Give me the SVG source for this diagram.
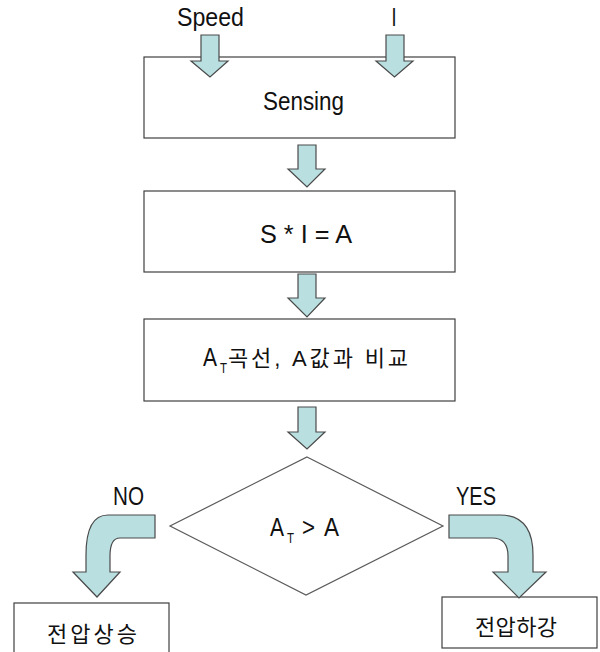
<svg xmlns="http://www.w3.org/2000/svg" width="600" height="652" viewBox="0 0 600 652">
<style>
.box{fill:#fff;stroke:#404040;stroke-width:1.2}
.dia{fill:#fff;stroke:#5a5a5a;stroke-width:1.2}
.arr{fill:#b9dfe0;stroke:#4a4a4a;stroke-width:1.2;stroke-linejoin:miter}
.t{font-family:"Liberation Sans","Noto Sans CJK KR",sans-serif;font-size:26px;fill:#111}
.m{font-family:"Liberation Sans","Noto Sans CJK KR",sans-serif;font-size:22px;fill:#111}
.k{font-family:"Noto Sans CJK KR","Liberation Sans",sans-serif;font-size:22px;fill:#111}
.sub{font-family:"Liberation Sans",sans-serif;font-size:14px;fill:#111}
</style>
<rect width="600" height="652" fill="#fff"/>
<g id="node-sensing">
  <rect class="box" x="144" y="57" width="311" height="81"/>
  <text class="t" x="263" y="110" textLength="81" lengthAdjust="spacingAndGlyphs">Sensing</text>
</g>
<g id="node-sia">
  <rect class="box" x="144" y="191" width="311" height="81"/>
  <text class="t" x="260" y="243" textLength="92" lengthAdjust="spacingAndGlyphs">S * I = A</text>
</g>
<g id="node-compare">
  <rect class="box" x="144" y="319" width="311" height="82"/>
  <text class="t" x="203" y="366" textLength="14" lengthAdjust="spacingAndGlyphs">A</text>
  <text class="sub" x="220" y="373" textLength="7" lengthAdjust="spacingAndGlyphs">T</text>
  <text class="m" x="228" y="366" textLength="180" lengthAdjust="spacing">곡선, A값과 비교</text>
</g>
<g id="node-decision">
  <polygon class="dia" points="307,457 443,526 306,595 170,526"/>
  <text class="t" x="270" y="536" textLength="14" lengthAdjust="spacingAndGlyphs">A</text>
  <text class="sub" x="287" y="543" textLength="7" lengthAdjust="spacingAndGlyphs">T</text>
  <text class="t" x="302" y="536" textLength="13" lengthAdjust="spacingAndGlyphs">&gt;</text>
  <text class="t" x="324" y="536" textLength="15" lengthAdjust="spacingAndGlyphs">A</text>
</g>
<g id="node-up">
  <rect class="box" x="14" y="603" width="155" height="60"/>
  <text class="k" x="47" y="642" textLength="90" lengthAdjust="spacing">전압상승</text>
</g>
<g id="node-down">
  <rect class="box" x="442" y="597" width="155" height="51"/>
  <text class="k" x="475" y="635" textLength="82" lengthAdjust="spacing">전압하강</text>
</g>
<g id="connectors">
  <path class="arr" d="M201,35 H219 V61 H228 L210,77 L191,61 H201 Z"/>
  <path class="arr" d="M386,35 H404 V61 H413 L394.5,77 L376,61 H386 Z"/>
  <path class="arr" d="M298,145 H316 V169 H325 L307,187 L288,169 H298 Z"/>
  <path class="arr" d="M298,274 H316 V298 H325 L307,317 L288,298 H298 Z"/>
  <path class="arr" d="M298,407 H316 V432 H325 L307,449 L288,432 H298 Z"/>
  <path class="arr" d="M155,515 H108 Q86,515 86,555 V572 H73 L97,597 L120,572 H110 V556 Q110,538 120,538 H155 Z"/>
  <path class="arr" d="M449,515 H500 Q533,515 533,555 V572 H546 L519,598 L493,572 H508 V556 Q508,538 492,538 H449 Z"/>
</g>
<g id="label-speed"><text class="t" x="177" y="26" textLength="67" lengthAdjust="spacingAndGlyphs">Speed</text></g>
<g id="label-i"><text class="t" x="394" y="26" text-anchor="middle" textLength="5" lengthAdjust="spacingAndGlyphs">I</text></g>
<g id="label-no"><text class="t" x="113" y="505" textLength="31" lengthAdjust="spacingAndGlyphs">NO</text></g>
<g id="label-yes"><text class="t" x="456" y="505" textLength="40" lengthAdjust="spacingAndGlyphs">YES</text></g>
</svg>
